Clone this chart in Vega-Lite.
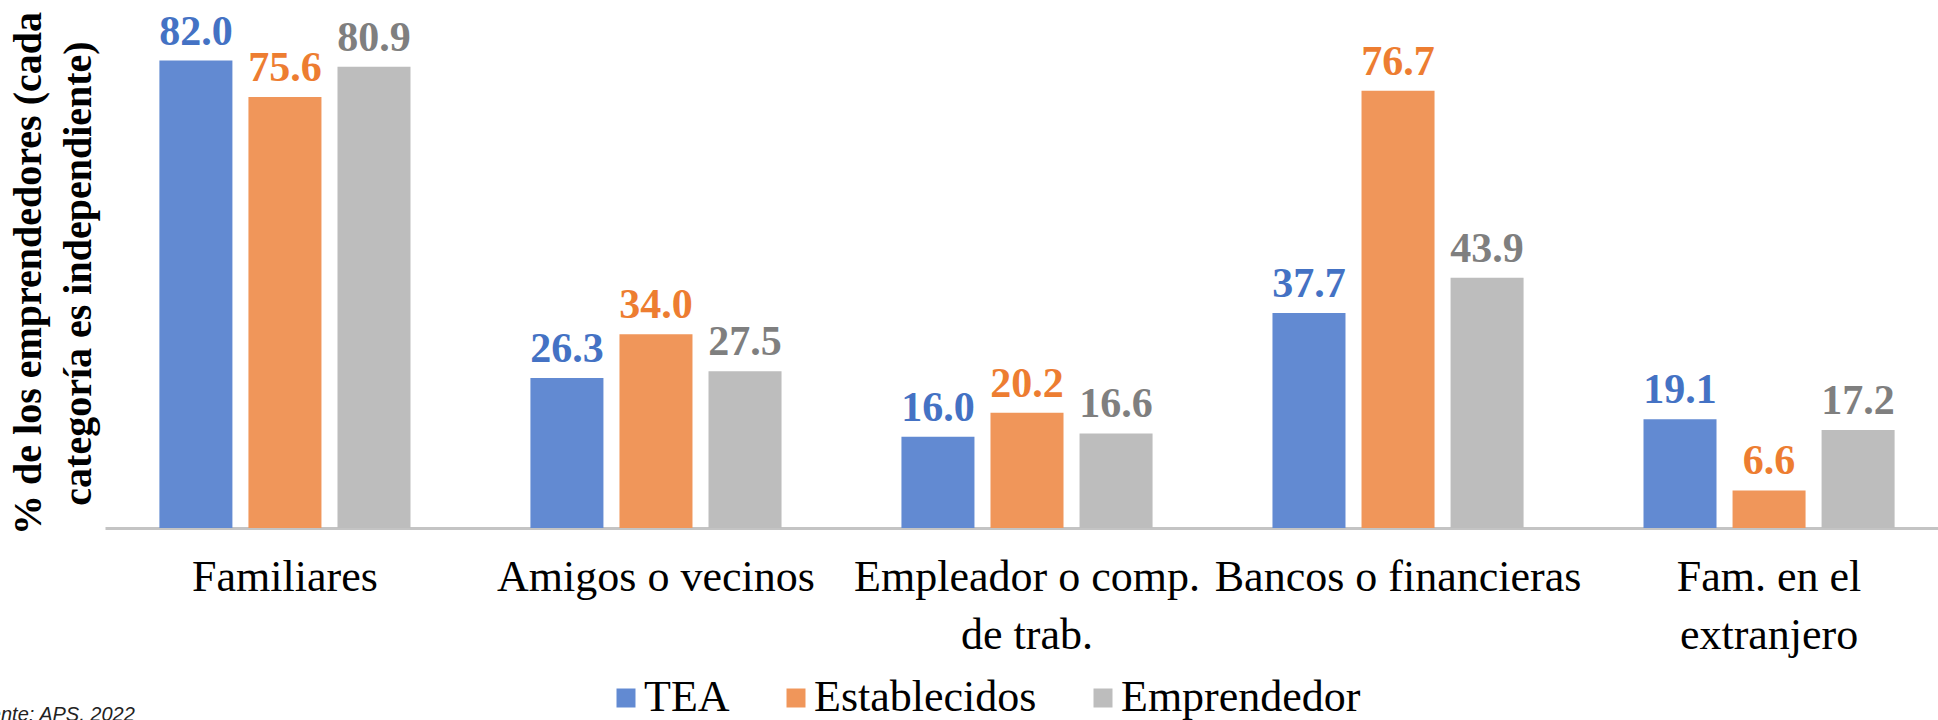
{
  "$schema": "https://vega.github.io/schema/vega-lite/v6.json",
  "width": 1844,
  "height": 513,
  "autosize": {"type": "none"},
  "padding": {"left": 105, "top": 15, "right": 0, "bottom": 192},
  "background": "white",
  "config": {"view": {"stroke": null}, "font": "Liberation Serif"},
  "data": {
    "values": [
      {"cat": "Familiares", "serie": "TEA", "valor": 82.0},
      {"cat": "Familiares", "serie": "Establecidos", "valor": 75.6},
      {"cat": "Familiares", "serie": "Emprendedor", "valor": 80.9},
      {"cat": "Amigos o vecinos", "serie": "TEA", "valor": 26.3},
      {"cat": "Amigos o vecinos", "serie": "Establecidos", "valor": 34.0},
      {"cat": "Amigos o vecinos", "serie": "Emprendedor", "valor": 27.5},
      {"cat": "Empleador o comp. de trab.", "serie": "TEA", "valor": 16.0},
      {"cat": "Empleador o comp. de trab.", "serie": "Establecidos", "valor": 20.2},
      {"cat": "Empleador o comp. de trab.", "serie": "Emprendedor", "valor": 16.6},
      {"cat": "Bancos o financieras", "serie": "TEA", "valor": 37.7},
      {"cat": "Bancos o financieras", "serie": "Establecidos", "valor": 76.7},
      {"cat": "Bancos o financieras", "serie": "Emprendedor", "valor": 43.9},
      {"cat": "Fam. en el extranjero", "serie": "TEA", "valor": 19.1},
      {"cat": "Fam. en el extranjero", "serie": "Establecidos", "valor": 6.6},
      {"cat": "Fam. en el extranjero", "serie": "Emprendedor", "valor": 17.2}
    ]
  },
  "encoding": {
    "x": {
      "field": "cat",
      "type": "nominal",
      "sort": ["Familiares", "Amigos o vecinos", "Empleador o comp. de trab.", "Bancos o financieras", "Fam. en el extranjero"],
      "scale": {"paddingInner": 0.28, "paddingOuter": 0.125},
      "axis": {
        "title": "Fuente: APS, 2022",
        "titleFont": "Liberation Sans",
        "titleFontStyle": "italic",
        "titleFontWeight": "normal",
        "titleFontSize": 20,
        "titleColor": "#222222",
        "titleX": -139,
        "titleY": 192,
        "titleAlign": "left",
        "titleAnchor": "start",
        "titleBaseline": "alphabetic",
        "domainColor": "#C4C4C4",
        "domainWidth": 3,
        "ticks": false,
        "labelFont": "Liberation Serif",
        "labelFontSize": 44,
        "labelColor": "black",
        "labelPadding": 27,
        "labelAngle": 0,
        "labelLimit": 0,
        "labelBaseline": "top",
        "labelLineHeight": 58,
        "labelExpr": "datum.value == 'Empleador o comp. de trab.' ? ['Empleador o comp.', 'de trab.'] : datum.value == 'Fam. en el extranjero' ? ['Fam. en el', 'extranjero'] : datum.value"
      }
    },
    "xOffset": {
      "field": "serie",
      "type": "nominal",
      "sort": ["TEA", "Establecidos", "Emprendedor"],
      "scale": {"paddingInner": 0.18, "paddingOuter": 0.09}
    },
    "y": {
      "field": "valor",
      "type": "quantitative",
      "scale": {"domain": [0, 90]},
      "axis": {
        "title": ["% de los emprendedores (cada", "categoría es independiente)"],
        "domain": false,
        "ticks": false,
        "labels": false,
        "grid": false,
        "titleFont": "Liberation Serif",
        "titleFontSize": 40,
        "titleFontWeight": "bold",
        "titleColor": "black",
        "titleAngle": -90,
        "titleX": -65,
        "titleY": 258,
        "titleAlign": "center",
        "titleBaseline": "alphabetic",
        "titleLineHeight": 50
      }
    }
  },
  "layer": [
    {
      "mark": {"type": "bar"},
      "encoding": {
        "color": {
          "field": "serie",
          "type": "nominal",
          "sort": ["TEA", "Establecidos", "Emprendedor"],
          "scale": {"domain": ["TEA", "Establecidos", "Emprendedor"], "range": ["#628AD2", "#F0965A", "#BDBDBD"]},
          "legend": {
            "title": null,
            "orient": "none",
            "legendX": 499,
            "legendY": 661,
            "direction": "horizontal",
            "labelFont": "Liberation Serif",
            "labelFontSize": 44,
            "labelColor": "black",
            "labelLimit": 0,
            "symbolType": "square",
            "symbolSize": 361,
            "symbolStrokeWidth": 0,
            "labelOffset": -4,
            "columnPadding": 44
          }
        }
      }
    },
    {
      "mark": {"type": "text", "baseline": "alphabetic", "dy": -16, "fontSize": 42, "fontWeight": "bold", "font": "Liberation Serif"},
      "encoding": {
        "text": {"field": "valor", "type": "quantitative", "format": ".1f"},
        "color": {
          "field": "serie",
          "type": "nominal",
          "scale": {"domain": ["TEA", "Establecidos", "Emprendedor"], "range": ["#4472C4", "#ED7D31", "#7F7F7F"]},
          "legend": null
        }
      }
    }
  ],
  "resolve": {"scale": {"color": "independent"}}
}
